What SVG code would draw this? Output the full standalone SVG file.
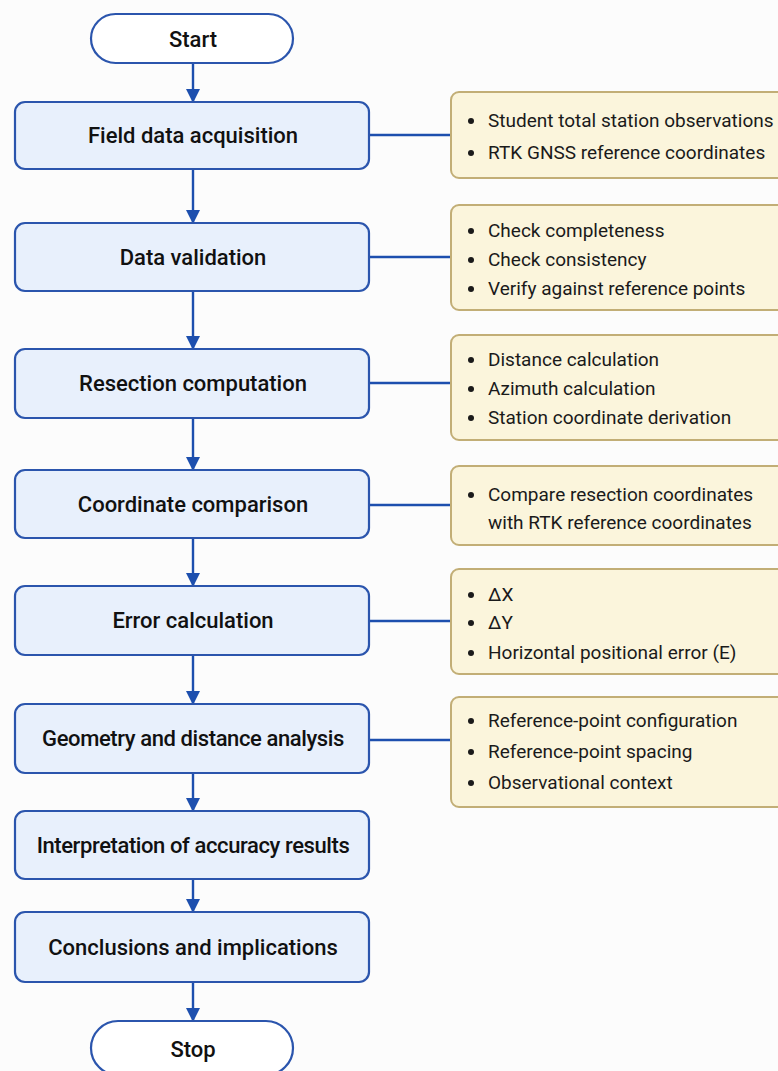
<svg xmlns="http://www.w3.org/2000/svg" width="778" height="1071" viewBox="0 0 778 1071">
<defs>
<style>
.proc{fill:#e8f0fc;stroke:#2b55ad;stroke-width:2.2}
.term{fill:#ffffff;stroke:#2b55ad;stroke-width:2.2}
.note{fill:#fbf5dc;stroke:#c2ae76;stroke-width:2}
.t{font-family:Roboto,"Liberation Sans",sans-serif;font-weight:500;font-size:22px;fill:#111;text-anchor:middle}
.tn{letter-spacing:-0.4px}
.b{font-family:Roboto,"Liberation Sans",sans-serif;font-size:19px;fill:#1a1a1a}
.d{fill:#1a1a1a}
.c{stroke:#1d4fae;stroke-width:2.4;fill:none}
.a{stroke:#1d4fae;stroke-width:2.4;fill:none;marker-end:url(#arr)}
</style>
<marker id="arr" markerWidth="14" markerHeight="14" refX="13" refY="7" orient="auto" markerUnits="userSpaceOnUse" viewBox="0 0 14 14">
<path d="M0,0 L14,7 L0,14 z" fill="#1d4fae"/>
</marker>
</defs>
<rect width="778" height="1071" fill="#fcfcfc"/>
<g id="connectors">
<line class="a" x1="193" y1="63" x2="193" y2="102"/>
<line class="a" x1="193" y1="169" x2="193" y2="223"/>
<line class="a" x1="193" y1="291" x2="193" y2="349"/>
<line class="a" x1="193" y1="418" x2="193" y2="470"/>
<line class="a" x1="193" y1="538" x2="193" y2="586"/>
<line class="a" x1="193" y1="655" x2="193" y2="704"/>
<line class="a" x1="193" y1="773" x2="193" y2="811"/>
<line class="a" x1="193" y1="879" x2="193" y2="912"/>
<line class="a" x1="193" y1="982" x2="193" y2="1021"/>
<line class="c" x1="369" y1="135" x2="451" y2="135"/>
<line class="c" x1="369" y1="257" x2="451" y2="257"/>
<line class="c" x1="369" y1="383" x2="451" y2="383"/>
<line class="c" x1="369" y1="505" x2="451" y2="505"/>
<line class="c" x1="369" y1="621" x2="451" y2="621"/>
<line class="c" x1="369" y1="740" x2="451" y2="740"/>
</g>
<g id="start"><rect class="term" x="91" y="14" width="202" height="49" rx="24.5"/><text class="t" x="193" y="47">Start</text></g>
<g id="n1"><rect class="proc" x="15" y="102" width="354" height="67" rx="10"/><text class="t" x="193" y="143">Field data acquisition</text></g>
<g id="n2"><rect class="proc" x="15" y="223" width="354" height="68" rx="10"/><text class="t" x="193" y="265">Data validation</text></g>
<g id="n3"><rect class="proc" x="15" y="349" width="354" height="69" rx="10"/><text class="t" x="193" y="391">Resection computation</text></g>
<g id="n4"><rect class="proc" x="15" y="470" width="354" height="68" rx="10"/><text class="t" x="193" y="512">Coordinate comparison</text></g>
<g id="n5"><rect class="proc" x="15" y="586" width="354" height="69" rx="10"/><text class="t" x="193" y="628">Error calculation</text></g>
<g id="n6"><rect class="proc" x="15" y="704" width="354" height="69" rx="10"/><text class="t tn" x="193" y="746">Geometry and distance analysis</text></g>
<g id="n7"><rect class="proc" x="15" y="811" width="354" height="68" rx="10"/><text class="t tn" x="193" y="853">Interpretation of accuracy results</text></g>
<g id="n8"><rect class="proc" x="15" y="912" width="354" height="70" rx="10"/><text class="t" x="193" y="955">Conclusions and implications</text></g>
<g id="stop"><rect class="term" x="91" y="1021" width="202" height="54" rx="27"/><text class="t" x="193" y="1057">Stop</text></g>
<g id="note1"><rect class="note" x="451" y="92" width="345" height="86" rx="8"/>
<circle class="d" cx="471" cy="121" r="3"/><text class="b" x="488" y="127">Student total station observations</text>
<circle class="d" cx="471" cy="153" r="3"/><text class="b" x="488" y="159">RTK GNSS reference coordinates</text></g>
<g id="note2"><rect class="note" x="451" y="205" width="345" height="105" rx="8"/>
<circle class="d" cx="471" cy="231" r="3"/><text class="b" x="488" y="237">Check completeness</text>
<circle class="d" cx="471" cy="260" r="3"/><text class="b" x="488" y="266">Check consistency</text>
<circle class="d" cx="471" cy="289" r="3"/><text class="b" x="488" y="295">Verify against reference points</text></g>
<g id="note3"><rect class="note" x="451" y="335" width="345" height="105" rx="8"/>
<circle class="d" cx="471" cy="360" r="3"/><text class="b" x="488" y="366">Distance calculation</text>
<circle class="d" cx="471" cy="389" r="3"/><text class="b" x="488" y="395">Azimuth calculation</text>
<circle class="d" cx="471" cy="418" r="3"/><text class="b" x="488" y="424">Station coordinate derivation</text></g>
<g id="note4"><rect class="note" x="451" y="466" width="345" height="79" rx="8"/>
<circle class="d" cx="471" cy="495" r="3"/><text class="b" x="488" y="501">Compare resection coordinates</text>
<text class="b" x="488" y="529">with RTK reference coordinates</text></g>
<g id="note5"><rect class="note" x="451" y="569" width="345" height="105" rx="8"/>
<circle class="d" cx="471" cy="595" r="3"/><text class="b" x="488" y="601">ΔX</text>
<circle class="d" cx="471" cy="623" r="3"/><text class="b" x="488" y="629">ΔY</text>
<circle class="d" cx="471" cy="653" r="3"/><text class="b" x="488" y="659">Horizontal positional error (E)</text></g>
<g id="note6"><rect class="note" x="451" y="697" width="345" height="110" rx="8"/>
<circle class="d" cx="471" cy="721" r="3"/><text class="b" x="488" y="727">Reference-point configuration</text>
<circle class="d" cx="471" cy="752" r="3"/><text class="b" x="488" y="758">Reference-point spacing</text>
<circle class="d" cx="471" cy="783" r="3"/><text class="b" x="488" y="789">Observational context</text></g>
</svg>
